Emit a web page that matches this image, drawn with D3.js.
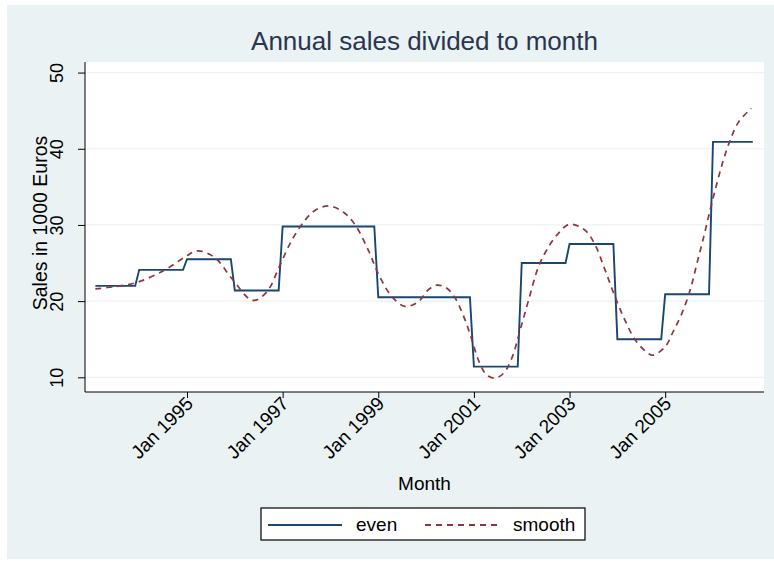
<!DOCTYPE html>
<html>
<head>
<meta charset="utf-8">
<script src="https://cdn.jsdelivr.net/npm/d3@7"></script>
<style>
  html, body { margin: 0; padding: 0; background: #ffffff; }
  svg { display: block; font-family: "Liberation Sans", Arial, sans-serif; }
</style>
</head>
<body>
<div id="chart"></div>
<script>
// ─── Data ────────────────────────────────────────────────────────────────
// annual level of the "even" series (one value per year, spread over months)
const years = [1993, 1994, 1995, 1996, 1997, 1998, 1999, 2000, 2001, 2002, 2003, 2004, 2005, 2006];
const evenValues = [22.0, 24.1, 25.5, 21.4, 29.8, 29.8, 20.5, 20.5, 11.4, 25.0, 27.5, 15.0, 20.9, 40.9];
// months are counted from Jan 1993 = 0
const firstMonth = 1;    // Feb 1993
const lastMonth = 166;   // Nov 2006

// "smooth" series (month index, value)
const smoothMonths = [1.0, 5.9, 11.7, 18.5, 23.5, 26.7, 31.0, 35.2, 40.5, 44.0, 47.3, 50.3, 53.6, 56.1,
    59.5, 63.2, 66.2, 69.5, 72.0, 75.4, 78.7, 82.0, 84.6, 86.7, 89.2, 91.3, 93.8, 95.5, 97.1, 99.2,
    101.3, 103.4, 105.5, 107.6, 109.7, 112.2, 114.7, 117.2, 120.0, 123.9, 126.4, 128.9, 131.4, 133.9,
    136.5, 139.8, 141.0, 144.0, 146.0, 148.2, 150.3, 152.0, 153.7, 155.3, 157.0, 158.6, 160.3, 162.4, 165.6];
const smoothValues = [21.6, 21.9, 22.5, 24.1, 25.8, 26.6, 25.7, 23.0, 20.1, 21.2, 24.7, 28.0, 30.6, 31.9,
    32.5, 31.7, 30.0, 26.7, 23.6, 20.6, 19.3, 19.9, 21.5, 22.1, 21.7, 20.4, 17.5, 14.9, 12.3, 10.3,
    9.9, 10.5, 12.5, 16.2, 20.1, 24.5, 27.1, 28.9, 30.1, 29.3, 27.4, 24.1, 20.6, 17.5,
    14.9, 13.1, 12.9, 14.0, 16.0, 18.4, 21.5, 25.0, 28.5, 32.0, 35.5, 38.5, 41.1, 43.5, 45.3];

const yTicks = [10, 20, 30, 40, 50];
const xTickMonths = [24, 48, 72, 96, 120, 144];
const xTickLabels = ['Jan 1995', 'Jan 1997', 'Jan 1999', 'Jan 2001', 'Jan 2003', 'Jan 2005'];
const seriesNames = ['even', 'smooth'];

// ─── Layout ──────────────────────────────────────────────────────────────
const W = 774, H = 566;
const plot = { left: 85, right: 764, top: 62, bottom: 392 };
const COLOR_EVEN = '#1a476f';
const COLOR_SMOOTH = '#90353b';
const BG = '#eaf2f3';

const svg = d3.select('#chart').append('svg').attr('width', W).attr('height', H);

svg.append('rect').attr('x', 7).attr('y', 5).attr('width', W - 7).attr('height', 554).attr('fill', BG);
svg.append('rect')
    .attr('x', plot.left).attr('y', plot.top)
    .attr('width', plot.right - plot.left).attr('height', plot.bottom - plot.top)
    .attr('fill', '#ffffff');

const x = d3.scaleLinear().domain([-1.6, 168.8]).range([plot.left, plot.right]);
const y = d3.scaleLinear().domain([8.07, 51.39]).range([plot.bottom, plot.top]);

// gridlines
svg.append('g').selectAll('line')
    .data(yTicks).enter().append('line')
    .attr('x1', plot.left).attr('x2', plot.right)
    .attr('y1', d => y(d)).attr('y2', d => y(d))
    .attr('stroke', BG).attr('stroke-width', 1.2);

// ─── Series ──────────────────────────────────────────────────────────────
const evenPoints = d3.range(firstMonth, lastMonth + 1).map(m => [m, evenValues[Math.floor(m / 12)]]);
const smoothPoints = smoothMonths.map((m, i) => [m, smoothValues[i]]);

svg.append('path')
    .datum(evenPoints)
    .attr('d', d3.line().x(d => x(d[0])).y(d => y(d[1])))
    .attr('fill', 'none')
    .attr('stroke', COLOR_EVEN)
    .attr('stroke-width', 1.9);

svg.append('path')
    .datum(smoothPoints)
    .attr('d', d3.line().curve(d3.curveCatmullRom.alpha(0.5)).x(d => x(d[0])).y(d => y(d[1])))
    .attr('fill', 'none')
    .attr('stroke', COLOR_SMOOTH)
    .attr('stroke-width', 1.7)
    .attr('stroke-dasharray', '6,5');

// ─── Axes ────────────────────────────────────────────────────────────────
const yAxis = svg.append('g').attr('transform', `translate(${plot.left},0)`)
    .call(d3.axisLeft(y).tickValues(yTicks).tickSize(7).tickFormat(d3.format('d')));
yAxis.select('.domain').attr('d', `M0,${plot.top}V${plot.bottom}`).attr('stroke', '#000');
yAxis.selectAll('.tick line').attr('stroke', '#000');
yAxis.selectAll('.tick text')
    .attr('x', null).attr('dy', null)
    .attr('transform', 'translate(-22,0) rotate(-90)')
    .attr('text-anchor', 'middle')
    .style('font-size', '18px').attr('fill', '#000');

const xAxis = svg.append('g').attr('transform', `translate(0,${plot.bottom})`)
    .call(d3.axisBottom(x).tickValues(xTickMonths).tickSize(6).tickFormat((d, i) => xTickLabels[i]));
xAxis.select('.domain').attr('d', `M${plot.left},0H${plot.right}`).attr('stroke', '#000');
xAxis.selectAll('.tick line').attr('stroke', '#000');
xAxis.selectAll('.tick text')
    .attr('y', null).attr('dy', null)
    .attr('transform', 'translate(2,8) rotate(-45)')
    .attr('text-anchor', 'end')
    .attr('dy', '0.35em')
    .style('font-size', '19px').attr('fill', '#000');

// titles
svg.append('text')
    .attr('x', (plot.left + plot.right) / 2).attr('y', 50)
    .attr('text-anchor', 'middle')
    .style('font-size', '26px').attr('fill', '#2a3550')
    .text('Annual sales divided to month');

svg.append('text')
    .attr('x', (plot.left + plot.right) / 2).attr('y', 490)
    .attr('text-anchor', 'middle')
    .style('font-size', '19px').attr('fill', '#000')
    .text('Month');

svg.append('text')
    .attr('transform', `translate(47,223) rotate(-90)`)
    .attr('text-anchor', 'middle')
    .style('font-size', '19.5px').attr('fill', '#000')
    .text('Sales in 1000 Euros');

// ─── Legend ──────────────────────────────────────────────────────────────
const legend = svg.append('g');
legend.append('rect')
    .attr('x', 261).attr('y', 508).attr('width', 324).attr('height', 32)
    .attr('fill', '#ffffff').attr('stroke', '#000').attr('stroke-width', 1.2);

const legendItems = [
    { name: seriesNames[0], color: COLOR_EVEN, dash: null, x0: 268 },
    { name: seriesNames[1], color: COLOR_SMOOTH, dash: '6,5', x0: 425 }
];
legendItems.forEach(it => {
    legend.append('line')
        .attr('x1', it.x0).attr('x2', it.x0 + 74)
        .attr('y1', 525).attr('y2', 525)
        .attr('stroke', it.color).attr('stroke-width', 1.8)
        .attr('stroke-dasharray', it.dash);
    legend.append('text')
        .attr('x', it.x0 + 88).attr('y', 531)
        .style('font-size', '19px').attr('fill', '#000')
        .text(it.name);
});
</script>
</body>
</html>
